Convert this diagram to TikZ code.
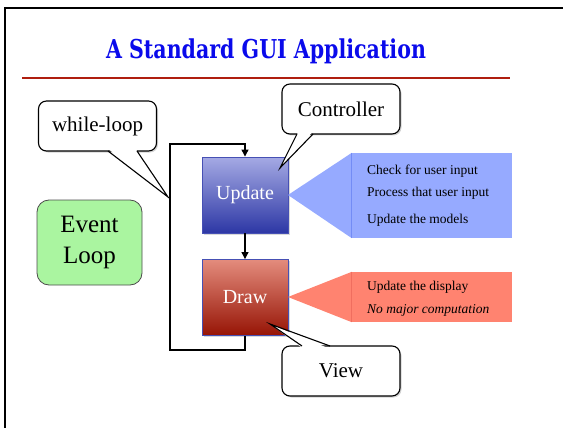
\documentclass[tikz,border=0pt]{standalone}
\usepackage{fontspec}
\setmainfont{Liberation Serif}
\newfontfamily\titlefont{DejaVu Serif}
\usetikzlibrary{shadows,arrows.meta}
\definecolor{titleblue}{RGB}{10,10,235}
\definecolor{rulered}{RGB}{175,30,15}
\definecolor{updtop}{RGB}{165,170,228}
\definecolor{updbot}{RGB}{45,55,165}
\definecolor{drwtop}{RGB}{228,140,125}
\definecolor{drwbot}{RGB}{150,20,5}
\definecolor{stageborder}{RGB}{70,80,180}
\definecolor{infoblue}{RGB}{150,170,255}
\definecolor{infoblueedge}{RGB}{115,140,245}
\definecolor{infored}{RGB}{255,131,112}
\definecolor{inforededge}{RGB}{240,110,95}
\definecolor{loopgreen}{RGB}{170,245,160}
\tikzset{
  bubble/.style={draw=black, line width=1.1pt, fill=white, rounded corners=8pt,
    minimum width=118pt, minimum height=50pt, inner sep=0pt,
    font=\fontsize{21}{24}\selectfont,
    drop shadow={opacity=0.35, shadow xshift=1.5pt, shadow yshift=-1.5pt}},
  stagebox/.style={draw=stageborder, line width=0.9pt, minimum width=86pt,
    minimum height=76pt, inner sep=0pt, text=white, font=\fontsize{20}{24}\selectfont,
    drop shadow={opacity=0.3, shadow xshift=1.5pt, shadow yshift=-1.5pt}},
  infotext/.style={anchor=west, inner sep=0pt, font=\fontsize{13.5}{16}\selectfont},
  loopline/.style={draw=black, line width=1.2pt},
  looparrow/.style={loopline, -{Triangle[length=7pt,width=7pt]}},
  tailline/.style={draw=black, line width=1.1pt, line join=miter},
}
\begin{document}
\begin{tikzpicture}[x=1pt,y=-1pt]
\useasboundingbox (0,0) rectangle (563,428);
% slide frame
\draw[line width=2.6pt] (5,430) -- (5,8) -- (565,8);
% title
\node[text=titleblue, font=\titlefont\bfseries\fontsize{26}{30}\selectfont, xscale=0.79, transform shape] (title) at (266,51) {A Standard GUI Application};
\draw[rulered, line width=1.2pt] (22,78) -- (510,78);

% stage boxes
\node[stagebox, top color=updtop, bottom color=updbot] (update) at (245,195) {Update};
\node[stagebox, top color=drwtop, bottom color=drwbot] (draw) at (245,297.5) {Draw};

% loop connectors
\coordinate (lb) at (245,350);
\coordinate (lbl) at (170,350);
\coordinate (ltl) at (170,144);
\coordinate (lt) at (245,144);
\draw[looparrow] (update.south) -- (draw.north);
\draw[looparrow] (draw.south) -- (lb) -- (lbl) -- (ltl) -- (lt) -- (update.north);

% info callouts
\node[fill=infoblue, minimum width=160pt, minimum height=85pt, inner sep=0pt] (infoU) at (432,195.5) {};
\fill[infoblue] (288,195) -- (infoU.north west) -- (infoU.south west) -- cycle;
\draw[infoblueedge, line width=0.8pt] (infoU.north west) -- (infoU.south west);
\node[infotext] (t1) at (367,171) {Check for user input};
\node[infotext] (t2) at (367,193) {Process that user input};
\node[infotext] (t3) at (367,220) {Update the models};

\node[fill=infored, minimum width=160pt, minimum height=50pt, inner sep=0pt] (infoD) at (432,297) {};
\fill[infored] (288,297) -- (infoD.north west) -- (infoD.south west) -- cycle;
\draw[inforededge, line width=0.8pt] (infoD.north west) -- (infoD.south west);
\node[infotext] (t4) at (367,287) {Update the display};
\node[infotext] (t5) at (367,310) {\itshape No major computation};

% event loop
\node[draw=black!70, line width=0.8pt, fill=loopgreen, rounded corners=12pt,
  minimum width=105pt, minimum height=85pt, align=center, inner sep=0pt,
  font=\fontsize{25}{31}\selectfont] (evloop) at (89.5,242.5) {Event\\Loop};

% speech bubbles
\node[bubble] (while) at (97.5,126) {while-loop};
\fill[white] (109,149.5) -- (168,197) -- (136,149.5) -- cycle;
\draw[tailline] (108,151) -- (168,197) -- (137,151);

\node[bubble] (ctrl) at (341,109) {Controller};
\fill[white] (298,132.5) -- (280,168) -- (312,132.5) -- cycle;
\draw[tailline] (297,134) -- (280,168) -- (313,134);

\node[bubble] (view) at (341,371) {View};
\fill[white] (303,348.5) -- (270,324) -- (329,348.5) -- cycle;
\draw[tailline] (302,346) -- (270,324) -- (330,346);
\end{tikzpicture}
\end{document}
